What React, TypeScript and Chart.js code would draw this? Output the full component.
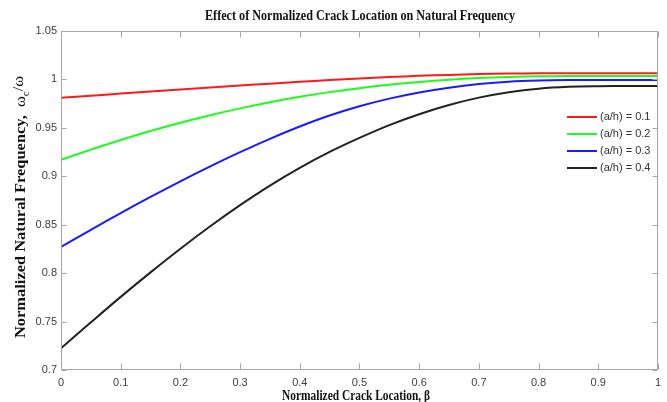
import React, { useEffect, useRef } from 'react';
import { Chart, registerables } from 'chart.js';

Chart.register(...registerables);

const chartTitle = 'Effect of Normalized Crack Location on Natural Frequency';
const xAxisTitle = 'Normalized Crack Location, \u03B2';
const yAxisTitleMain = 'Normalized Natural Frequency,  ';

const betaValues = [0, 0.05, 0.1, 0.15, 0.2, 0.25, 0.3, 0.35, 0.4, 0.45, 0.5, 0.55, 0.6, 0.65, 0.7, 0.75, 0.8, 0.85, 0.9, 0.95, 1];

const freqAh01 = [0.981, 0.9832, 0.9854, 0.9876, 0.9897, 0.9917, 0.9937, 0.9956, 0.9975, 0.9993, 1.0009, 1.0024, 1.0037, 1.0047, 1.0055, 1.006, 1.0063, 1.0064, 1.0064, 1.0064, 1.0064];
const freqAh02 = [0.917, 0.9275, 0.9375, 0.9467, 0.9552, 0.963, 0.9701, 0.9765, 0.9821, 0.9869, 0.991, 0.9945, 0.9974, 0.9997, 1.0014, 1.0025, 1.0032, 1.0035, 1.0035, 1.0035, 1.0035];
const freqAh03 = [0.827, 0.8447, 0.862, 0.8787, 0.8948, 0.9102, 0.9249, 0.9387, 0.9514, 0.9627, 0.9723, 0.9802, 0.9866, 0.9915, 0.9952, 0.9977, 0.9989, 0.9994, 0.9995, 0.9995, 0.9995];
const freqAh04 = [0.7225, 0.7492, 0.7755, 0.8008, 0.8252, 0.8484, 0.8702, 0.8904, 0.9087, 0.9251, 0.9396, 0.9528, 0.9641, 0.9736, 0.9812, 0.9868, 0.9905, 0.9924, 0.993, 0.9931, 0.9931];

const seriesLabels = ['(a/h) = 0.1', '(a/h) = 0.2', '(a/h) = 0.3', '(a/h) = 0.4'];
const seriesColors = ['#ff1a1a', '#1aff1a', '#1a1aff', '#222222'];
const seriesValues = [freqAh01, freqAh02, freqAh03, freqAh04];

const xTickValues = [0, 0.1, 0.2, 0.3, 0.4, 0.5, 0.6, 0.7, 0.8, 0.9, 1];
const yTickValues = [0.7, 0.75, 0.8, 0.85, 0.9, 0.95, 1, 1.05];

const fmt = (v: number) => String(Number(Number(v).toFixed(2)));

function fitText(ctx: CanvasRenderingContext2D, text: string, cx: number, cy: number, width: number) {
  const w = ctx.measureText(text).width;
  ctx.save();
  ctx.translate(cx, cy);
  ctx.scale(width / w, 1);
  ctx.textAlign = 'center';
  ctx.textBaseline = 'middle';
  ctx.fillText(text, 0, 0);
  ctx.restore();
}

const decorPlugin = {
  id: 'decor',
  afterDraw(chart: any) {
    const { ctx, chartArea: a, scales } = chart;
    const xs = scales.x;
    const ys = scales.y;
    const L = Math.round(a.left) + 0.5;
    const R = Math.round(a.right) - 0.5;
    const T = Math.round(a.top) + 0.5;
    const B = Math.round(a.bottom) - 0.5;
    ctx.save();
    ctx.strokeStyle = '#a6a6a6';
    ctx.lineWidth = 1;
    ctx.beginPath();
    ctx.rect(L, T, R - L, B - T);
    ctx.stroke();
    ctx.beginPath();
    for (const v of xTickValues) {
      const px = Math.round(xs.getPixelForValue(v)) + 0.5;
      ctx.moveTo(px, B);
      ctx.lineTo(px, B - 6);
      ctx.moveTo(px, T);
      ctx.lineTo(px, T + 6);
    }
    for (const v of yTickValues) {
      const py = Math.round(ys.getPixelForValue(v)) + 0.5;
      ctx.moveTo(L, py);
      ctx.lineTo(L + 5, py);
      ctx.moveTo(R, py);
      ctx.lineTo(R - 5, py);
    }
    ctx.stroke();

    // legend
    ctx.font = '11px "Liberation Sans", Arial, sans-serif';
    ctx.textAlign = 'left';
    ctx.textBaseline = 'middle';
    seriesLabels.forEach((lab, i) => {
      const y = Math.round(a.top) + 86 + i * 17;
      const x0 = Math.round(a.right) - 91;
      ctx.strokeStyle = seriesColors[i];
      ctx.lineWidth = 2;
      ctx.beginPath();
      ctx.moveTo(x0, y);
      ctx.lineTo(x0 + 30, y);
      ctx.stroke();
      ctx.fillStyle = '#333333';
      ctx.fillText(lab, x0 + 33, y);
    });

    // titles
    ctx.fillStyle = '#111111';
    ctx.font = 'bold 14px "Liberation Serif", "Times New Roman", serif';
    fitText(ctx, chartTitle, 360, 16.5, 310);
    ctx.font = 'bold 14px "Liberation Serif", "Times New Roman", serif';
    fitText(ctx, xAxisTitle, 356, 396, 148);

    // y title with subscript
    const fMain = 'bold 15px "Liberation Serif", "Times New Roman", serif';
    const fSym = '15px "Liberation Serif", "Times New Roman", serif';
    const fSub = '10px "Liberation Serif", "Times New Roman", serif';
    const parts = [
      { t: yAxisTitleMain, f: fMain, dy: 0 },
      { t: '\u03C9', f: fSym, dy: 0 },
      { t: 'c', f: fSub, dy: 5 },
      { t: '/\u03C9', f: fSym, dy: -2 },
    ];
    let total = 0;
    const widths = parts.map((p) => {
      ctx.font = p.f;
      const w = ctx.measureText(p.t).width;
      total += w;
      return w;
    });
    const target = 262;
    ctx.save();
    ctx.translate(21, 207);
    ctx.rotate(-Math.PI / 2);
    ctx.scale(target / total, 1);
    ctx.textAlign = 'left';
    ctx.textBaseline = 'middle';
    let cx = -total / 2;
    parts.forEach((p, i) => {
      ctx.font = p.f;
      ctx.fillText(p.t, cx, p.dy);
      cx += widths[i];
    });
    ctx.restore();
    ctx.restore();
  },
};

export default function App() {
  const ref = useRef<HTMLCanvasElement | null>(null);
  useEffect(() => {
    document.body.style.margin = '0';
    const canvas = ref.current;
    if (!canvas) return;
    const chart = new Chart(canvas, {
      type: 'line',
      data: {
        datasets: seriesValues.map((vals, i) => ({
          label: seriesLabels[i],
          data: betaValues.map((b, j) => ({ x: b, y: vals[j] })),
          borderColor: seriesColors[i],
          backgroundColor: seriesColors[i],
          borderWidth: 2,
          pointRadius: 0,
          fill: false,
          tension: 0.35,
        })),
      },
      options: {
        responsive: false,
        animation: false,
        devicePixelRatio: 1,
        layout: { padding: { top: 31, right: 6, left: 0, bottom: 0 } },
        plugins: {
          legend: { display: false },
          title: { display: false },
          tooltip: { enabled: false },
        },
        scales: {
          x: {
            type: 'linear',
            min: 0,
            max: 1,
            grid: { display: false, drawTicks: false },
            border: { display: false },
            afterFit: (s: any) => {
              s.height = 32;
            },
            afterBuildTicks: (s: any) => {
              s.ticks = xTickValues.map((v) => ({ value: v }));
            },
            ticks: {
              padding: 6,
              autoSkip: false,
              maxRotation: 0,
              color: '#404040',
              font: { family: '"Liberation Sans", Arial, sans-serif', size: 11 },
              callback: (v: any) => fmt(v),
            },
          },
          y: {
            type: 'linear',
            min: 0.7,
            max: 1.05,
            grid: { display: false, drawTicks: false },
            border: { display: false },
            afterFit: (s: any) => {
              s.width = 61;
            },
            afterBuildTicks: (s: any) => {
              s.ticks = yTickValues.map((v) => ({ value: v }));
            },
            ticks: {
              padding: 4,
              autoSkip: false,
              color: '#404040',
              font: { family: '"Liberation Sans", Arial, sans-serif', size: 11 },
              callback: (v: any) => fmt(v),
            },
          },
        },
      } as any,
      plugins: [decorPlugin],
    });
    return () => chart.destroy();
  }, []);
  return (
    <div style={{ width: 667, height: 402, background: '#ffffff' }}>
      <canvas ref={ref} width={667} height={402} style={{ display: 'block', width: 667, height: 402 }} />
    </div>
  );
}
